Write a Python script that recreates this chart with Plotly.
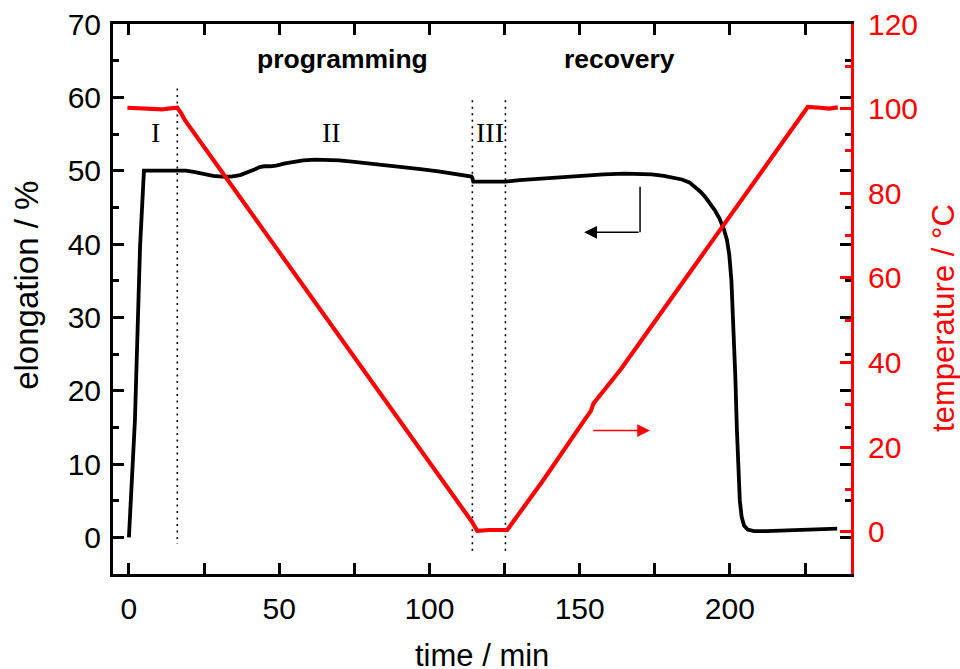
import plotly.graph_objects as go

# Elongation of the sample during the shape-memory cycle (left axis)
time_elong = [0, 2, 3.7, 5, 6, 10, 15, 19, 22, 25, 28, 31, 34, 37, 40, 42, 43.5, 45, 47, 49,
              52, 55, 58, 62, 66, 70, 75, 80, 85, 90, 97, 103, 108, 112, 114.0, 114.3, 114.6,
              118, 122, 125.3, 130, 140, 150, 158, 165, 170, 174, 178, 181, 184, 186.5, 188.5,
              190.3, 192, 193.5, 195, 196.5, 198, 199, 199.8, 200.5, 201.2, 201.8, 202.3, 202.8,
              203.3, 203.9, 204.7, 205.9, 208, 212, 220, 228, 235.7]
elongation = [0, 16, 39.6, 50, 50.0, 50.0, 50.0, 50.0, 49.8, 49.5, 49.3, 49.2, 49.2, 49.4, 49.8,
              50.2, 50.5, 50.6, 50.6, 50.7, 51.0, 51.2, 51.4, 51.5, 51.5, 51.4, 51.2, 51.0, 50.7,
              50.5, 50.2, 49.9, 49.6, 49.3, 49.2, 49.0, 48.5, 48.5, 48.5, 48.5, 48.7, 49.0, 49.3,
              49.5, 49.6, 49.6, 49.5, 49.3, 49.1, 48.8, 48.4, 47.8, 47.1, 46.3, 45.5, 44.6, 43.5,
              42.0, 40.6, 38.5, 35, 29, 22, 15, 9, 5, 2.8, 1.6, 1.05, 0.85, 0.85, 0.95, 1.1, 1.2]

# Temperature programme (right axis)
time_temp = [-0.5, 3, 6, 9, 11, 13, 16.1, 17.3, 18.7, 49.2, 80, 100, 106, 110, 113, 114.2, 115.9,
             120, 125.9, 138.1, 151.4, 153.7, 154.6, 155.3, 163.7, 192.6, 225.9, 230, 233, 235.9]
temperature = [100.2, 100.1, 99.9, 100.0, 99.8, 100.0, 100.2, 99.0, 97.2, 66.9, 36.3, 16.5, 10.3,
               6.3, 3.4, 2.3, 0.2, 0.4, 0.4, 12.4, 26.2, 28.5, 30.3, 30.9, 38.4, 67.2, 100.4,
               100.2, 100.0, 100.3]

# Phase boundaries (dotted lines) and their vertical extent on the elongation axis
phase_t = [16.1, 114.3, 125.3]
phase_top = [61.2, 59.6, 59.6]
phase_bottom = [-0.9, -2.4, -2.4]

# Phase labels
phase_labels = ["I", "II", "III"]
phase_label_t = [8.7, 67.5, 120.2]
phase_label_v = [55.2, 55.2, 55.2]

stage_labels = ["programming", "recovery"]
stage_label_t = [71.1, 163.1]
stage_label_v = [65.2, 65.2]

# Arrows pointing to the axis each curve belongs to
elong_arrow_t = [170.1, 170.1, 151.5]   # corner top, corner, tip
elong_arrow_v = [47.8, 41.6, 41.6]
temp_arrow_t = [154.0, 173.4]           # tail, tip
temp_arrow_T = [23.9, 23.9]

SANS = "Liberation Sans, Arial, sans-serif"
SERIF = "Liberation Serif, Times New Roman, serif"
RED = "#ff0000"

fig = go.Figure()

# dotted phase separators
sep_x, sep_y = [], []
for t, top, bot in zip(phase_t, phase_top, phase_bottom):
    sep_x += [t, t, None]
    sep_y += [top, bot, None]
fig.add_trace(go.Scatter(x=sep_x, y=sep_y, mode="lines",
                         line=dict(color="black", width=1.6, dash="2px,4.5px"),
                         hoverinfo="skip", showlegend=False))

fig.add_trace(go.Scatter(x=time_elong, y=elongation, mode="lines",
                         line=dict(color="black", width=3.8), name="elongation",
                         showlegend=False))

fig.add_trace(go.Scatter(x=time_temp, y=temperature, mode="lines", yaxis="y2",
                         line=dict(color=RED, width=4.2), name="temperature",
                         showlegend=False))

# vertical stem of the L-shaped arrow
fig.add_trace(go.Scatter(x=elong_arrow_t[:2], y=elong_arrow_v[:2], mode="lines",
                         line=dict(color="black", width=1.5), hoverinfo="skip",
                         showlegend=False))

annotations = []
for txt, t, v in zip(phase_labels, phase_label_t, phase_label_v):
    annotations.append(dict(x=t, y=v, xref="x", yref="y", text=txt, showarrow=False,
                            font=dict(family=SERIF, size=28, color="black")))
for txt, t, v in zip(stage_labels, stage_label_t, stage_label_v):
    annotations.append(dict(x=t, y=v, xref="x", yref="y", text="<b>" + txt + "</b>",
                            showarrow=False,
                            font=dict(family=SANS, size=26.5, color="black")))
annotations.append(dict(x=elong_arrow_t[2], y=elong_arrow_v[2], xref="x", yref="y",
                        ax=elong_arrow_t[1], ay=elong_arrow_v[1], axref="x", ayref="y",
                        text="", showarrow=True, arrowhead=2, arrowsize=1.7,
                        arrowwidth=1.5, arrowcolor="black", standoff=0, startstandoff=0))
annotations.append(dict(x=temp_arrow_t[1], y=temp_arrow_T[1], xref="x", yref="y2",
                        ax=temp_arrow_t[0], ay=temp_arrow_T[0], axref="x", ayref="y2",
                        text="", showarrow=True, arrowhead=2, arrowsize=1.7,
                        arrowwidth=1.5, arrowcolor=RED, standoff=0, startstandoff=0))

# axis titles, placed beside their axes
annotations.append(dict(x=0.5, y=-0.148, xref="paper", yref="paper",
                        text="time / min", showarrow=False,
                        xanchor="center", yanchor="middle",
                        font=dict(family=SANS, size=31, color="black")))
annotations.append(dict(x=-0.1165, y=0.524, xref="paper", yref="paper",
                        text="elongation / %", textangle=-90, showarrow=False,
                        xanchor="center", yanchor="middle",
                        font=dict(family=SANS, size=33, color="black")))
annotations.append(dict(x=1.126, y=0.4655, xref="paper", yref="paper",
                        text="temperature / °C", textangle=-90, showarrow=False,
                        xanchor="center", yanchor="middle",
                        font=dict(family=SANS, size=31, color=RED)))

tick_font = dict(family=SANS, size=30, color="black")

fig.update_layout(
    width=960, height=669,
    margin=dict(l=113, r=109, t=24, b=95, autoexpand=False),
    paper_bgcolor="white", plot_bgcolor="white",
    showlegend=False,
    annotations=annotations,
    xaxis=dict(
        range=[-5.3, 240.3], dtick=50, tick0=0, automargin=False,
        showgrid=False, zeroline=False,
        showline=True, linecolor="black", linewidth=3, mirror="allticks",
        ticks="inside", ticklen=11, tickwidth=2.5, tickcolor="black",
        minor=dict(dtick=25, ticks="inside", ticklen=6, tickwidth=2.5, tickcolor="black"),
        tickfont=tick_font, ticklabelstandoff=6,
    ),
    yaxis=dict(
        range=[-5, 70], dtick=10, tick0=0, automargin=False,
        showgrid=False, zeroline=False,
        showline=True, linecolor="black", linewidth=3, mirror="allticks",
        ticks="inside", ticklen=11, tickwidth=2.5, tickcolor="black",
        minor=dict(dtick=5, ticks="inside", ticklen=6, tickwidth=2.5, tickcolor="black"),
        tickfont=tick_font, ticklabelstandoff=3,
    ),
    yaxis2=dict(
        overlaying="y", side="right", automargin=False,
        range=[-10, 120], dtick=20, tick0=0,
        showgrid=False, zeroline=False,
        showline=True, linecolor=RED, linewidth=3,
        ticks="inside", ticklen=11, tickwidth=2.5, tickcolor=RED,
        minor=dict(dtick=10, ticks="inside", ticklen=6, tickwidth=2.5, tickcolor=RED),
        tickfont=dict(family=SANS, size=30, color=RED), ticklabelstandoff=8,
    ),
)

fig.write_html("out.html")
